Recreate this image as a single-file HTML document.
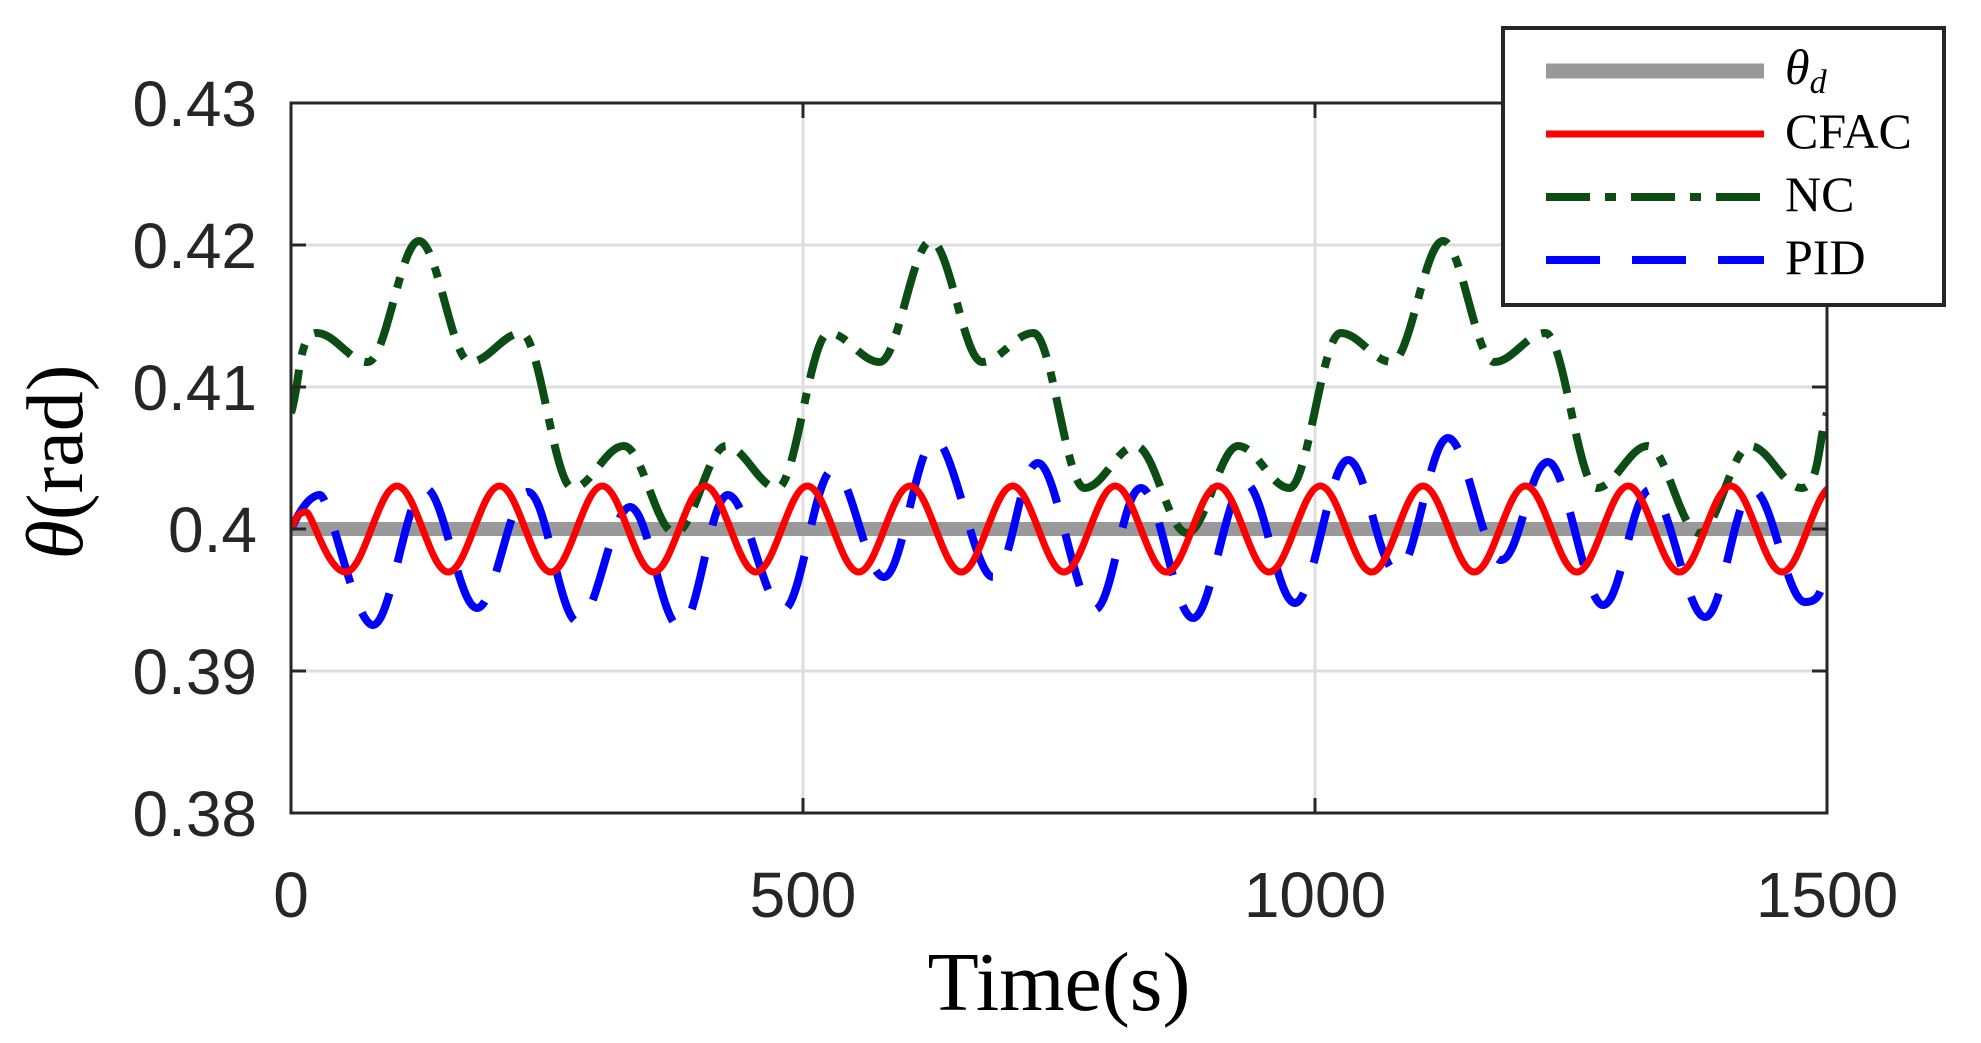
<!DOCTYPE html>
<html><head><meta charset="utf-8"><style>
body{margin:0;background:#fff;width:1981px;height:1043px;overflow:hidden}
svg{display:block}
.tk{font-family:"Liberation Sans",sans-serif;font-size:64px;fill:#262626}
.sr{font-family:"Liberation Serif",serif;fill:#000}
</style></head><body>
<svg width="1981" height="1043" xmlns="http://www.w3.org/2000/svg">
<defs><clipPath id="c"><rect x="291" y="103" width="1536" height="710"/></clipPath></defs>
<g stroke="#dedede" stroke-width="3">
<line x1="291" x2="1827" y1="245" y2="245"/><line x1="291" x2="1827" y1="387" y2="387"/>
<line x1="291" x2="1827" y1="671" y2="671"/><line x1="291" x2="1827" y1="529" y2="529"/>
<line x1="803" x2="803" y1="103" y2="813"/><line x1="1315" x2="1315" y1="103" y2="813"/>
</g>
<line x1="291" x2="1827" y1="529" y2="529" stroke="#999" stroke-width="14"/>
<g clip-path="url(#c)" fill="none">
<path stroke="#0b4d14" stroke-width="8" stroke-dasharray="44 15 11 15" d="M291 413 C300 385 298.2 333 316.6 333 S349.4 362 367.8 362 S400.6 241 419 241 S451.8 362 470.2 362 S503 333 521.4 333 S554.2 488 572.6 488 S605.4 446 623.8 446 S656.6 533 675 533 S707.8 446 726.2 446 S759 488 777.4 488 S810.2 333 828.6 333 S861.4 362 879.8 362 S912.6 241 931 241 S963.8 362 982.2 362 S1015 333 1033.4 333 S1066.2 488 1084.6 488 S1117.4 446 1135.8 446 S1168.6 533 1187 533 S1219.8 446 1238.2 446 S1271 488 1289.4 488 S1322.2 333 1340.6 333 S1373.4 362 1391.8 362 S1424.6 241 1443 241 S1475.8 362 1494.2 362 S1527 333 1545.4 333 S1578.2 488 1596.6 488 S1629.4 446 1647.8 446 S1680.6 533 1699 533 S1731.8 446 1750.2 446 S1783 488 1801.4 488 S1818 440 1827 413"/>
<path stroke="#0000ff" stroke-width="8" stroke-dasharray="54 32" d="M291 529 C300 510 310 495 320 495 S354.5 625 373 625 S406.5 488 425 488 S458.5 608 477 608 S509.5 492 528 492 S559.5 622 578 622 S611.5 507 630 507 S661.5 627 680 627 S709.5 495 728 495 S764.5 610 783 610 S814.5 470 833 470 S865.5 577 884 577 S916.5 440 935 440 S974.5 577 993 577 S1019.5 463 1038 463 S1075.5 610 1094 610 S1122.5 488 1141 488 S1174.5 618 1193 618 S1226.5 483 1245 483 S1276.5 603 1295 603 S1329.5 460 1348 460 S1378.5 572 1397 572 S1429.5 438 1448 438 S1482.5 560 1501 560 S1529.5 462 1548 462 S1584.5 605 1603 605 S1631.5 490 1650 490 S1686.5 617 1705 617 S1734.5 490 1753 490 S1786.5 602 1805 602 S1820 585 1830 560"/>
<path stroke="#ff0000" stroke-width="7" d="M291 529 C296 516 300 512 306 512 S327.2 572 345.7 572 S378.5 486 397 486 S429.8 572 448.3 572 S481.1 486 499.6 486 S532.4 572 550.9 572 S583.7 486 602.2 486 S635 572 653.5 572 S686.3 486 704.8 486 S737.6 572 756.1 572 S788.9 486 807.4 486 S840.2 572 858.7 572 S891.5 486 910 486 S942.8 572 961.3 572 S994.1 486 1012.6 486 S1045.4 572 1063.9 572 S1096.7 486 1115.2 486 S1148 572 1166.5 572 S1199.3 486 1217.8 486 S1250.6 572 1269.1 572 S1301.9 486 1320.4 486 S1353.2 572 1371.7 572 S1404.5 486 1423 486 S1455.8 572 1474.3 572 S1507.1 486 1525.6 486 S1558.4 572 1576.9 572 S1609.7 486 1628.2 486 S1661 572 1679.5 572 S1712.3 486 1730.8 486 S1763.6 572 1782.1 572 S1814.9 486 1833.4 486"/>
</g>
<g stroke="#262626" stroke-width="3" fill="none">
<rect x="291" y="103" width="1536" height="710"/>
<path d="M291 245h15M291 387h15M291 529h15M291 671h15M1827 245h-15M1827 387h-15M1827 529h-15M1827 671h-15M803 813v-15M1315 813v-15M803 103v15M1315 103v15"/>
</g>
<g class="tk" text-anchor="end">
<text x="257" y="126">0.43</text><text x="257" y="268">0.42</text><text x="257" y="410">0.41</text>
<text x="257" y="552">0.4</text><text x="257" y="694">0.39</text><text x="257" y="836">0.38</text>
</g>
<g class="tk" text-anchor="middle">
<text x="291" y="917">0</text><text x="803" y="917">500</text><text x="1315" y="917">1000</text><text x="1827" y="917">1500</text>
</g>
<text class="sr" x="1059" y="1010" text-anchor="middle" font-size="84">Time(s)</text>
<text class="sr" transform="translate(82,462) rotate(-90)" text-anchor="middle" font-size="80"><tspan font-style="italic">θ</tspan>(rad)</text>
<rect x="1503" y="28" width="441" height="277" fill="#fff" stroke="#262626" stroke-width="4"/>
<line x1="1546" x2="1764" y1="71" y2="71" stroke="#999" stroke-width="15"/>
<line x1="1546" x2="1764" y1="134" y2="134" stroke="#ff0000" stroke-width="7"/>
<line x1="1546" x2="1764" y1="197" y2="197" stroke="#0b4d14" stroke-width="8" stroke-dasharray="44 15 11 15"/>
<line x1="1546" x2="1764" y1="260" y2="260" stroke="#0000ff" stroke-width="8" stroke-dasharray="54 32"/>
<g class="sr" font-size="50">
<text x="1785" y="84" font-style="italic">θ<tspan font-size="34" dy="9">d</tspan></text>
<text x="1785" y="148">CFAC</text><text x="1785" y="211">NC</text><text x="1785" y="274">PID</text>
</g>
</svg>
</body></html>
